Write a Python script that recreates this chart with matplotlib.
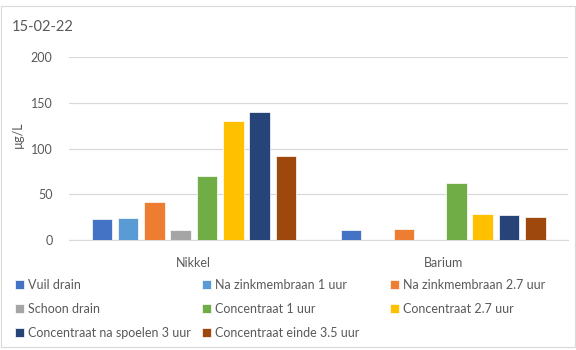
import numpy as np
import matplotlib.pyplot as plt
from matplotlib.patches import Rectangle

plt.rcParams['font.family'] = ['Lato', 'DejaVu Sans']

# metals on the x axis
metals = ['Nikkel', 'Barium']

# sample series, values in ug/L (nan = not measured)
series = [
    'Vuil drain',
    'Na zinkmembraan 1 uur',
    'Na zinkmembraan 2.7 uur',
    'Schoon drain',
    'Concentraat 1 uur',
    'Concentraat 2.7 uur',
    'Concentraat na spoelen 3 uur',
    'Concentraat einde 3.5 uur',
]
vuil_drain = [23, 11]
na_zink_1 = [24, np.nan]
na_zink_27 = [42, 12]
schoon_drain = [11, np.nan]
conc_1 = [70, 62]
conc_27 = [130, 29]
conc_spoelen_3 = [140, 27]
conc_einde_35 = [92, 25]
values = [vuil_drain, na_zink_1, na_zink_27, schoon_drain,
          conc_1, conc_27, conc_spoelen_3, conc_einde_35]

colors = ['#4472C4', '#5B9BD5', '#ED7D31', '#A5A5A5',
          '#70AD47', '#FFC000', '#264478', '#9E480E']

grey = '#595959'

fig = plt.figure(figsize=(5.76, 3.5), dpi=100)
ax = fig.add_axes([0.12, 0.314, 0.866, 0.523])

x = np.arange(len(metals))
step = 0.1055
width = 0.082
bars = []
for i, (vals, c) in enumerate(zip(values, colors)):
    off = (i - (len(series) - 1) / 2) * step
    b = ax.bar(x + off, vals, width, color=c, edgecolor='white',
               linewidth=0.5, label=series[i], zorder=3)
    bars.append(b)

ax.set_xlim(-0.5, 1.5)
ax.set_ylim(0, 200)
ax.set_yticks([0, 50, 100, 150, 200])
ax.set_xticks(x)
ax.set_xticklabels(metals)
ax.grid(axis='y', color='#D9D9D9', linewidth=0.9, zorder=0)
for s in ['top', 'right', 'left']:
    ax.spines[s].set_visible(False)
ax.spines['bottom'].set_color('#D9D9D9')
ax.tick_params(axis='both', length=0, colors=grey, labelsize=9)
ax.tick_params(axis='x', pad=12)
ax.tick_params(axis='y', pad=12)
ax.set_ylabel('µg/L', color=grey, fontsize=9)
ax.yaxis.set_label_coords(-0.09, 0.574)

fig.text(0.021, 0.922, '15-02-22', color=grey, fontsize=10.5, va='center')

# legend: three fixed-width columns, filled row by row
columns = [[0, 3, 6], [1, 4, 7], [2, 5]]
col_x = [15, 202, 390]
for cx, idx in zip(col_x, columns):
    leg = fig.legend([bars[i] for i in idx], [series[i] for i in idx],
                     loc='upper left', bbox_to_anchor=(cx / 576, 0.203),
                     frameon=False, fontsize=9, handlelength=0.7,
                     handleheight=0.7, handletextpad=0.35,
                     labelspacing=0.97, borderaxespad=0, borderpad=0)
    for t in leg.get_texts():
        t.set_color(grey)

fig.patches.append(Rectangle((0.002, 0.008), 0.996, 0.975, transform=fig.transFigure,
                             fill=False, edgecolor='#D9D9D9', linewidth=0.8))

fig.savefig('out.png', dpi=100)
